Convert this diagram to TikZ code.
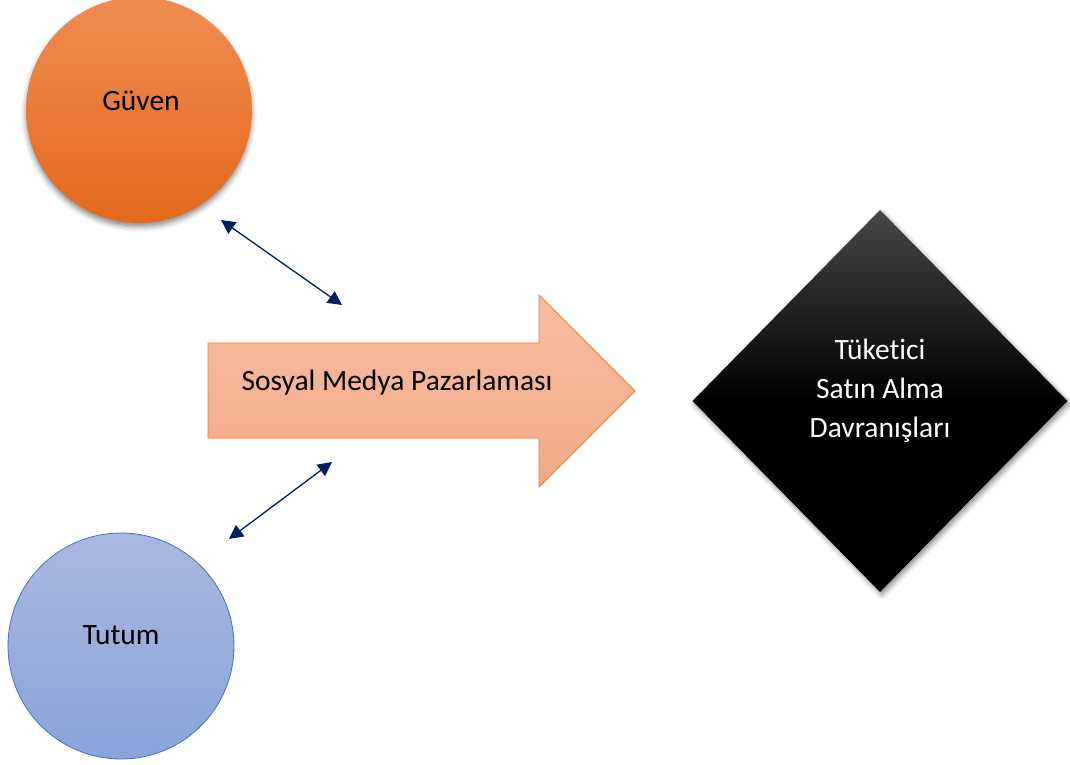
\documentclass[tikz,border=0pt]{standalone}
\usepackage{fontspec}
\setmainfont{Carlito}[Ligatures={NoCommon}]
\usetikzlibrary{shapes.geometric,arrows.meta,shadows.blur}
\definecolor{navy}{HTML}{002060}
\definecolor{orgA}{HTML}{F08C52}
\definecolor{orgB}{HTML}{E36A1C}
\definecolor{bluA}{HTML}{A9B8E0}
\definecolor{bluB}{HTML}{8AA3D9}
\definecolor{bluLine}{HTML}{4472C4}
\definecolor{arrA}{HTML}{F6BEA2}
\definecolor{arrB}{HTML}{F4A986}
\definecolor{arrLine}{HTML}{ED7D31}
\tikzset{
  lbl/.style={font=\fontsize{29.5}{39}\selectfont, align=center, inner sep=0pt},
  dbl/.style={draw=navy, line width=1.3pt, {Triangle[length=14pt,width=14pt]}-{Triangle[length=14pt,width=14pt]}},
  ball/.style={circle, inner sep=0pt, outer sep=0pt, minimum size=226pt}
}
\begin{document}
\begin{tikzpicture}[x=1pt,y=-1pt]
\useasboundingbox (0,0) rectangle (1070,764);
% Güven
\node[ball, top color=orgA, bottom color=orgB, blur shadow={shadow xshift=0pt, shadow yshift=-4pt, shadow blur radius=5pt, shadow opacity=45}] (guven) at (139,110) {};
\node[lbl] (tg) at (141,101) {Güven};
% Tutum
\node[ball, draw=bluLine, line width=0.8pt, top color=bluA, bottom color=bluB] (tutum) at (121,646) {};
\node[lbl] (tt) at (121,635) {Tutum};
% Big arrow
\path[draw=arrLine, line width=0.8pt, top color=arrA, bottom color=arrB]
  (208,343) -- (539,343) -- (539,295) -- (635,391) -- (539,487) -- (539,438) -- (208,438) -- cycle;
\node[lbl] (smp) at (397,383) {Sosyal Medya Pazarlaması};
% Diamond
\node[diamond, inner sep=0pt, outer sep=0pt, minimum width=375pt, minimum height=382pt,
  top color=black!72, bottom color=black, middle color=black,
  blur shadow={shadow xshift=2pt, shadow yshift=-3pt, shadow blur radius=5pt, shadow opacity=45}] (dia) at (880,401) {};
\node[lbl, text=white] (td) at (880,391) {Tüketici\\Satın Alma\\Davranışları};
% double arrows
\coordinate (a1) at (221,220);
\coordinate (a2) at (342,305);
\coordinate (b1) at (332,462);
\coordinate (b2) at (229,539);
\draw[dbl] (a1) -- (a2);
\draw[dbl] (b1) -- (b2);
\end{tikzpicture}
\end{document}
